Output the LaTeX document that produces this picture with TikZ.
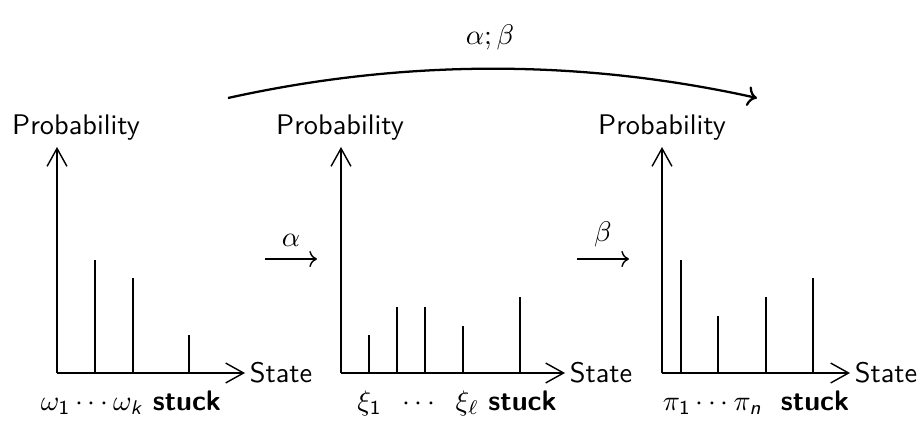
\documentclass[tikz,border=0pt]{standalone}
\usepackage{amsmath}
\usetikzlibrary{arrows.meta}
\begin{document}
\begin{tikzpicture}[x=0.353pt,y=-0.353pt, font=\sffamily,
 axis/.style={line width=0.5pt, -{Straight Barb[length=6.3pt,width=7pt]}},
 bar/.style={line width=0.5pt},
 step arrow/.style={line width=0.5pt, -{To}},
 ylabel/.style={anchor=base, inner sep=0pt},
 xlabel/.style={anchor=west, inner sep=1.5pt},
 stlabel/.style={anchor=center, inner sep=0pt}]
\useasboundingbox (0,0) rectangle (924,424);
% origins and axis tips
\coordinate (o1) at (57,373);  \coordinate (y1) at (57,147);  \coordinate (x1) at (245,373);
\coordinate (o2) at (341,373); \coordinate (y2) at (341,147); \coordinate (x2) at (565,373);
\coordinate (o3) at (662,373); \coordinate (y3) at (662,147); \coordinate (x3) at (850,373);
% axes
\draw[axis] (o1) -- (y1);
\draw[axis] (o1) -- (x1);
\draw[axis] (o2) -- (y2);
\draw[axis] (o2) -- (x2);
\draw[axis] (o3) -- (y3);
\draw[axis] (o3) -- (x3);
% axis labels
\node[ylabel] (p1) at (76,135) {Probability};
\node[ylabel] (p2) at (340,135) {Probability};
\node[ylabel] (p3) at (662,135) {Probability};
\node[xlabel] (s1) at (x1) {State};
\node[xlabel] (s2) at (x2) {State};
\node[xlabel] (s3) at (x3) {State};
% bars panel 1
\draw[bar] (95,373) -- (95,260);
\draw[bar] (133,373) -- (133,278);
\draw[bar] (189,373) -- (189,335);
% bars panel 2
\draw[bar] (369,373) -- (369,335);
\draw[bar] (397,373) -- (397,307);
\draw[bar] (425,373) -- (425,307);
\draw[bar] (463,373) -- (463,326);
\draw[bar] (520,373) -- (520,297);
% bars panel 3
\draw[bar] (681,373) -- (681,260);
\draw[bar] (718,373) -- (718,316);
\draw[bar] (766,373) -- (766,297);
\draw[bar] (813,373) -- (813,278);
% state labels
\node[stlabel] (l1) at (131,403) {$\omega_{\textsf{1}}\cdots\omega_{\textsf{\textit{k}}}$ \textbf{stuck}};
\node[stlabel] (l2) at (457,403) {$\xi_{\textsf{1}}\;\;\cdots\;\;\xi_\ell$ \textbf{stuck}};
\node[stlabel] (l3) at (756,403) {$\pi_{\textsf{1}}\cdots\pi_{\textsf{\textit{n}}}$\ \ \textbf{stuck}};
% step arrows
\coordinate (a1) at (265,259); \coordinate (a2) at (317,259);
\coordinate (b1) at (577,259); \coordinate (b2) at (629,259);
\draw[step arrow] (a1) -- (a2) node[midway, above, inner sep=4pt] (la) {$\alpha$};
\draw[step arrow] (b1) -- (b2) node[midway, above, inner sep=4pt] (lb) {$\beta$};
% composite arrow
\coordinate (c1) at (228,98); \coordinate (c2) at (757,98);
\draw[thick, -{To}] (c1) .. controls (404,59) and (581,59) .. (c2);
\node (lab) at (490,37) {$\alpha;\beta$};
\end{tikzpicture}
\end{document}
